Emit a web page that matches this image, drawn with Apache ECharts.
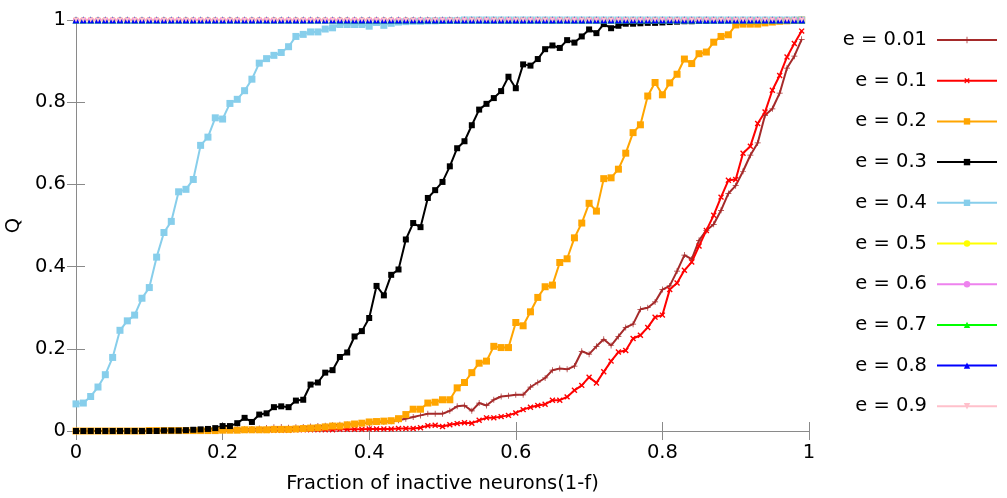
<!DOCTYPE html>
<html>
<head>
<meta charset="utf-8">
<script src="https://cdn.jsdelivr.net/npm/echarts@6/dist/echarts.min.js"></script>
<style>
  html, body { margin: 0; padding: 0; background: #ffffff; }
  #chart { width: 1007px; height: 498px; }
</style>
</head>
<body>
<div id="chart"></div>
<script>
// Fraction of inactive neurons (1-f), one sample every 0.01
const xFrac = [
  0.00, 0.01, 0.02, 0.03, 0.04, 0.05, 0.06, 0.07, 0.08, 0.09,
  0.10, 0.11, 0.12, 0.13, 0.14, 0.15, 0.16, 0.17, 0.18, 0.19,
  0.20, 0.21, 0.22, 0.23, 0.24, 0.25, 0.26, 0.27, 0.28, 0.29,
  0.30, 0.31, 0.32, 0.33, 0.34, 0.35, 0.36, 0.37, 0.38, 0.39,
  0.40, 0.41, 0.42, 0.43, 0.44, 0.45, 0.46, 0.47, 0.48, 0.49,
  0.50, 0.51, 0.52, 0.53, 0.54, 0.55, 0.56, 0.57, 0.58, 0.59,
  0.60, 0.61, 0.62, 0.63, 0.64, 0.65, 0.66, 0.67, 0.68, 0.69,
  0.70, 0.71, 0.72, 0.73, 0.74, 0.75, 0.76, 0.77, 0.78, 0.79,
  0.80, 0.81, 0.82, 0.83, 0.84, 0.85, 0.86, 0.87, 0.88, 0.89,
  0.90, 0.91, 0.92, 0.93, 0.94, 0.95, 0.96, 0.97, 0.98, 0.99
];

// Q for each noise level e
const qE001 = [
  0.000, 0.000, 0.000, 0.000, 0.000, 0.000, 0.000, 0.000, 0.000, 0.000,
  0.001, 0.001, 0.001, 0.001, 0.001, 0.002, 0.002, 0.002, 0.002, 0.002,
  0.003, 0.003, 0.004, 0.004, 0.005, 0.006, 0.007, 0.009, 0.010, 0.008,
  0.009, 0.010, 0.011, 0.012, 0.013, 0.014, 0.015, 0.016, 0.017, 0.019,
  0.020, 0.022, 0.022, 0.024, 0.026, 0.030, 0.034, 0.038, 0.042, 0.042,
  0.042, 0.049, 0.060, 0.062, 0.049, 0.068, 0.062, 0.076, 0.084, 0.086,
  0.088, 0.088, 0.107, 0.118, 0.129, 0.148, 0.152, 0.150, 0.158, 0.194,
  0.187, 0.206, 0.223, 0.208, 0.230, 0.252, 0.260, 0.296, 0.300, 0.314,
  0.344, 0.353, 0.389, 0.428, 0.418, 0.464, 0.488, 0.503, 0.537, 0.578,
  0.597, 0.632, 0.671, 0.701, 0.768, 0.784, 0.822, 0.883, 0.912, 0.953
];
const qE01 = [
  0.000, 0.000, 0.000, 0.000, 0.000, 0.000, 0.000, 0.000, 0.000, 0.000,
  0.001, 0.001, 0.001, 0.001, 0.001, 0.001, 0.001, 0.001, 0.001, 0.001,
  0.002, 0.002, 0.002, 0.002, 0.002, 0.002, 0.002, 0.002, 0.002, 0.002,
  0.003, 0.003, 0.003, 0.003, 0.003, 0.003, 0.004, 0.004, 0.004, 0.004,
  0.005, 0.005, 0.005, 0.005, 0.006, 0.006, 0.006, 0.008, 0.013, 0.014,
  0.011, 0.015, 0.018, 0.020, 0.019, 0.026, 0.032, 0.032, 0.035, 0.038,
  0.044, 0.052, 0.058, 0.062, 0.065, 0.075, 0.075, 0.083, 0.099, 0.111,
  0.131, 0.117, 0.144, 0.170, 0.192, 0.196, 0.225, 0.233, 0.252, 0.277,
  0.282, 0.344, 0.360, 0.391, 0.411, 0.450, 0.488, 0.525, 0.569, 0.610,
  0.612, 0.676, 0.693, 0.748, 0.776, 0.829, 0.865, 0.910, 0.943, 0.973
];
const qE02 = [
  0.000, 0.000, 0.000, 0.000, 0.000, 0.000, 0.000, 0.000, 0.000, 0.000,
  0.001, 0.001, 0.001, 0.001, 0.001, 0.001, 0.001, 0.001, 0.001, 0.001,
  0.002, 0.002, 0.002, 0.003, 0.003, 0.003, 0.003, 0.004, 0.004, 0.004,
  0.005, 0.006, 0.007, 0.008, 0.010, 0.012, 0.012, 0.015, 0.017, 0.019,
  0.022, 0.023, 0.024, 0.025, 0.030, 0.040, 0.053, 0.053, 0.068, 0.070,
  0.076, 0.076, 0.105, 0.118, 0.142, 0.165, 0.170, 0.206, 0.203, 0.203,
  0.264, 0.256, 0.290, 0.325, 0.351, 0.355, 0.410, 0.419, 0.470, 0.506,
  0.554, 0.535, 0.614, 0.616, 0.637, 0.676, 0.726, 0.745, 0.815, 0.848,
  0.818, 0.847, 0.868, 0.905, 0.894, 0.918, 0.922, 0.946, 0.960, 0.964,
  0.988, 0.990, 0.990, 0.990, 0.993, 0.995, 0.997, 0.998, 0.999, 1.000
];
const qE03 = [
  0.000, 0.000, 0.000, 0.000, 0.000, 0.000, 0.000, 0.000, 0.000, 0.000,
  0.000, 0.000, 0.001, 0.001, 0.001, 0.002, 0.003, 0.004, 0.005, 0.007,
  0.012, 0.012, 0.019, 0.032, 0.022, 0.040, 0.043, 0.058, 0.060, 0.058,
  0.074, 0.076, 0.113, 0.118, 0.142, 0.148, 0.180, 0.191, 0.230, 0.243,
  0.275, 0.353, 0.330, 0.380, 0.393, 0.466, 0.506, 0.496, 0.567, 0.586,
  0.606, 0.644, 0.688, 0.705, 0.744, 0.782, 0.796, 0.810, 0.827, 0.862,
  0.834, 0.892, 0.889, 0.905, 0.929, 0.938, 0.932, 0.951, 0.945, 0.960,
  0.977, 0.968, 0.990, 0.980, 0.986, 0.991, 0.991, 0.992, 0.993, 0.993,
  0.994, 0.995, 0.996, 0.997, 0.997, 0.998, 0.998, 0.999, 0.999, 1.000,
  1.000, 1.000, 1.000, 1.000, 1.000, 1.000, 1.000, 1.000, 1.000, 1.000
];
const qE04 = [
  0.066, 0.068, 0.084, 0.107, 0.137, 0.179, 0.245, 0.268, 0.282, 0.323,
  0.349, 0.423, 0.483, 0.510, 0.582, 0.588, 0.612, 0.695, 0.715, 0.762,
  0.759, 0.797, 0.807, 0.828, 0.856, 0.895, 0.906, 0.914, 0.921, 0.935,
  0.960, 0.965, 0.971, 0.971, 0.978, 0.981, 0.989, 0.989, 0.989, 0.989,
  0.985, 0.994, 0.987, 0.992, 0.995, 0.996, 0.997, 0.997, 0.998, 0.998,
  0.999, 0.999, 0.999, 1.000, 1.000, 1.000, 1.000, 1.000, 1.000, 1.000,
  1.000, 1.000, 1.000, 1.000, 1.000, 1.000, 1.000, 1.000, 1.000, 1.000,
  1.000, 1.000, 1.000, 1.000, 1.000, 1.000, 1.000, 1.000, 1.000, 1.000,
  1.000, 1.000, 1.000, 1.000, 1.000, 1.000, 1.000, 1.000, 1.000, 1.000,
  1.000, 1.000, 1.000, 1.000, 1.000, 1.000, 1.000, 1.000, 1.000, 1.000
];
// e = 0.5 ... 0.9 stay at full retrieval over the whole range
const qSaturated = [
  1, 1, 1, 1, 1, 1, 1, 1, 1, 1,
  1, 1, 1, 1, 1, 1, 1, 1, 1, 1,
  1, 1, 1, 1, 1, 1, 1, 1, 1, 1,
  1, 1, 1, 1, 1, 1, 1, 1, 1, 1,
  1, 1, 1, 1, 1, 1, 1, 1, 1, 1,
  1, 1, 1, 1, 1, 1, 1, 1, 1, 1,
  1, 1, 1, 1, 1, 1, 1, 1, 1, 1,
  1, 1, 1, 1, 1, 1, 1, 1, 1, 1,
  1, 1, 1, 1, 1, 1, 1, 1, 1, 1,
  1, 1, 1, 1, 1, 1, 1, 1, 1, 1
];

const seriesNames = ['e = 0.01', 'e = 0.1', 'e = 0.2', 'e = 0.3', 'e = 0.4',
                     'e = 0.5', 'e = 0.6', 'e = 0.7', 'e = 0.8', 'e = 0.9'];
const yTicks = [0, 0.2, 0.4, 0.6, 0.8, 1];

const FONT = 'DejaVu Sans';
const AXIS_GRAY = '#8a8a8a';

// gnuplot-like point shapes
const PLUS = 'path://M4,0h2v4h4v2h-4v4h-2v-4h-4v-2h4z';
const PLUS_THIN = 'path://M4.4,0h1.2v4.4h4.4v1.2h-4.4v4.4h-1.2v-4.4h-4.4v-1.2h4.4z';
const TRI_DOWN = 'path://M0,0L10,0L5,9z';

function lineSeries(name, color, symbol, size, values, width, rotate) {
  return {
    name: name,
    type: 'line',
    xAxisIndex: 0,
    yAxisIndex: 0,
    data: xFrac.map(function (x, i) { return [x, values[i]]; }),
    symbol: symbol,
    symbolSize: size,
    symbolRotate: rotate || 0,
    showSymbol: true,
    lineStyle: { color: color, width: width },
    itemStyle: { color: color, borderWidth: 0 },
    emphasis: { disabled: true },
    animation: false
  };
}

const series = [
  lineSeries(seriesNames[0], '#a52a2a', PLUS_THIN, 6, qE001, 2),
  lineSeries(seriesNames[1], '#ff0000', PLUS, 7, qE01, 2, 45),
  lineSeries(seriesNames[2], '#ffa500', 'rect', 7, qE02, 2),
  lineSeries(seriesNames[3], '#000000', 'rect', 6, qE03, 2),
  lineSeries(seriesNames[4], '#87ceeb', 'rect', 7, qE04, 2),
  lineSeries(seriesNames[5], '#ffff00', 'circle', 6, qSaturated, 2),
  lineSeries(seriesNames[6], '#ee82ee', 'circle', 6, qSaturated, 2),
  lineSeries(seriesNames[7], '#00ff00', 'triangle', 7, qSaturated, 2),
  lineSeries(seriesNames[8], '#0000ff', 'triangle', 7, qSaturated, 2),
  lineSeries(seriesNames[9], '#ffc0cb', TRI_DOWN, 5, qSaturated, 3)
];

const tickStyle = { show: true, inside: true, length: 9, lineStyle: { color: AXIS_GRAY, width: 1 } };
const lineStyleAxis = { show: true, lineStyle: { color: AXIS_GRAY, width: 1 } };

const option = {
  backgroundColor: '#ffffff',
  animation: false,
  textStyle: { fontFamily: FONT },
  grid: {
    left: 76, right: 198, top: 20, bottom: 67,
    containLabel: false,
    outerBoundsMode: 'none'
  },
  xAxis: [
    {
      type: 'value', min: 0, max: 1, interval: 0.2, position: 'bottom',
      name: 'Fraction of inactive neurons(1-f)',
      nameLocation: 'middle', nameGap: 43,
      nameTextStyle: { fontFamily: FONT, fontSize: 19.5, color: '#000' },
      axisLine: lineStyleAxis, axisTick: tickStyle,
      axisLabel: { fontFamily: FONT, fontSize: 19.5, color: '#000', margin: 12 },
      splitLine: { show: false }
    },
    {
      type: 'value', min: 0, max: 1, interval: 0.2, position: 'top',
      axisLine: lineStyleAxis, axisTick: tickStyle,
      axisLabel: { show: false }, splitLine: { show: false }
    }
  ],
  yAxis: [
    {
      type: 'value', min: yTicks[0], max: yTicks[yTicks.length - 1], interval: 0.2, position: 'left',
      name: 'Q', nameLocation: 'middle', nameGap: 42,
      nameTextStyle: { fontFamily: FONT, fontSize: 19.5, color: '#000' },
      axisLine: lineStyleAxis, axisTick: tickStyle,
      axisLabel: { fontFamily: FONT, fontSize: 19.5, color: '#000', margin: 10 },
      splitLine: { show: false }
    },
    {
      type: 'value', min: 0, max: 1, interval: 0.2, position: 'right',
      axisLine: lineStyleAxis, axisTick: tickStyle,
      axisLabel: { show: false }, splitLine: { show: false }
    }
  ],
  legend: {
    data: seriesNames,
    orient: 'vertical',
    align: 'right',
    right: 9,
    top: 30,
    padding: 0,
    itemWidth: 60,
    itemHeight: 8,
    itemGap: 20.7,
    selectedMode: false,
    textStyle: { fontFamily: FONT, fontSize: 19.5, color: '#000', lineHeight: 20, padding: [0, 5, 0, 0] }
  },
  series: series
};

const chart = echarts.init(document.getElementById('chart'), null, { renderer: 'canvas' });
chart.setOption(option);
</script>
</body>
</html>
